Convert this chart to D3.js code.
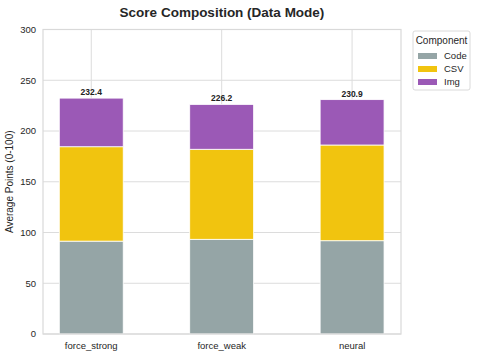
<!DOCTYPE html>
<html>
<head>
    <title>Score Composition</title>
    <script src="https://cdnjs.cloudflare.com/ajax/libs/d3/7.8.5/d3.min.js"></script>
    <style>
        html, body {
            margin: 0;
            padding: 0;
            background: white;
            font-family: Arial, 'Liberation Sans', sans-serif;
        }
    </style>
</head>
<body>
    <div id="chart"></div>
    <script>
        const modes = ["force_strong", "force_weak", "neural"];
        const components = ["Code", "CSV", "Img"];
        const codePts = [91.5, 93.3, 91.9];
        const csvPts = [93.0, 88.7, 94.3];
        const imgPts = [47.9, 44.2, 44.7];
        const totals = [232.4, 226.2, 230.9];
        const yTicks = [0, 50, 100, 150, 200, 250, 300];
        const colors = ["#95a5a6", "#f1c40f", "#9b59b6"];

        const width = 479, height = 357;
        const margin = { top: 29.5, right: 78, bottom: 23, left: 43 };

        const svg = d3.select("#chart").append("svg")
            .attr("width", width)
            .attr("height", height);

        const x = d3.scaleLinear()
            .domain([-0.37, 2.375])
            .range([margin.left, width - margin.right]);
        const y = d3.scaleLinear()
            .domain([0, 300])
            .range([height - margin.bottom, margin.top]);

        const rows = modes.map((m, i) => ({ mode: m, i, Code: codePts[i], CSV: csvPts[i], Img: imgPts[i] }));
        const stacked = d3.stack().keys(components)(rows);

        // grid
        svg.append("g").selectAll("line")
            .data(yTicks)
            .enter().append("line")
            .attr("x1", margin.left).attr("x2", width - margin.right)
            .attr("y1", d => y(d)).attr("y2", d => y(d))
            .attr("stroke", "#dcdcdc").attr("stroke-width", 1);
        svg.append("g").selectAll("line")
            .data(modes)
            .enter().append("line")
            .attr("x1", (d, i) => x(i)).attr("x2", (d, i) => x(i))
            .attr("y1", y(0)).attr("y2", y(300))
            .attr("stroke", "#dcdcdc").attr("stroke-width", 1);

        // bars
        const barW = x(0.49) - x(0);
        svg.append("g").selectAll("g")
            .data(stacked)
            .enter().append("g")
            .attr("fill", (d, k) => colors[k])
            .selectAll("rect")
            .data(d => d)
            .enter().append("rect")
            .attr("x", d => x(d.data.i) - barW / 2)
            .attr("width", barW)
            .attr("y", d => y(d[1]))
            .attr("height", d => y(d[0]) - y(d[1]))
            .attr("stroke", "white")
            .attr("stroke-width", 0.8);

        // total labels
        svg.append("g").selectAll("text")
            .data(totals)
            .enter().append("text")
            .attr("x", (d, i) => x(i))
            .attr("y", d => y(d) - 3)
            .attr("text-anchor", "middle")
            .attr("font-size", "8.5px")
            .attr("font-weight", "bold")
            .attr("fill", "#222")
            .text(d => d.toFixed(1));

        // frame
        svg.append("rect")
            .attr("x", margin.left).attr("y", margin.top)
            .attr("width", width - margin.right - margin.left)
            .attr("height", y(0) - margin.top)
            .attr("fill", "none")
            .attr("stroke", "#d9d9d9").attr("stroke-width", 1.2);

        // y tick labels
        svg.append("g").selectAll("text")
            .data(yTicks)
            .enter().append("text")
            .attr("x", margin.left - 7)
            .attr("y", d => y(d))
            .attr("dy", "0.35em")
            .attr("text-anchor", "end")
            .attr("font-size", "9.5px")
            .attr("fill", "#262626")
            .text(d => d);

        // x tick labels
        svg.append("g").selectAll("text")
            .data(modes)
            .enter().append("text")
            .attr("x", (d, i) => x(i))
            .attr("y", y(0) + 15)
            .attr("text-anchor", "middle")
            .attr("font-size", "9.5px")
            .attr("fill", "#262626")
            .text(d => d);

        // y label
        svg.append("text")
            .attr("transform", `translate(13,${(y(0) + y(300)) / 2}) rotate(-90)`)
            .attr("text-anchor", "middle")
            .attr("font-size", "10px")
            .attr("fill", "#262626")
            .text("Average Points (0-100)");

        // title
        svg.append("text")
            .attr("x", (margin.left + width - margin.right) / 2)
            .attr("y", 17)
            .attr("text-anchor", "middle")
            .attr("font-size", "13.5px")
            .attr("font-weight", "bold")
            .attr("fill", "#262626")
            .text("Score Composition (Data Mode)");

        // legend
        const lg = svg.append("g").attr("transform", "translate(413,31)");
        lg.append("rect")
            .attr("width", 57).attr("height", 59)
            .attr("rx", 2)
            .attr("fill", "white")
            .attr("stroke", "#d0d0d0").attr("stroke-width", 0.8);
        lg.append("text")
            .attr("x", 28.5).attr("y", 13)
            .attr("text-anchor", "middle")
            .attr("font-size", "10px")
            .attr("fill", "#262626")
            .text("Component");
        const items = lg.selectAll("g.item")
            .data(components)
            .enter().append("g")
            .attr("class", "item")
            .attr("transform", (d, i) => `translate(5,${25 + i * 13})`);
        items.append("rect")
            .attr("x", 0).attr("y", -3)
            .attr("width", 19).attr("height", 6)
            .attr("fill", (d, i) => colors[i]);
        items.append("text")
            .attr("x", 26).attr("y", 0)
            .attr("dy", "0.35em")
            .attr("font-size", "9.5px")
            .attr("fill", "#262626")
            .text(d => d);
    </script>
</body>
</html>
